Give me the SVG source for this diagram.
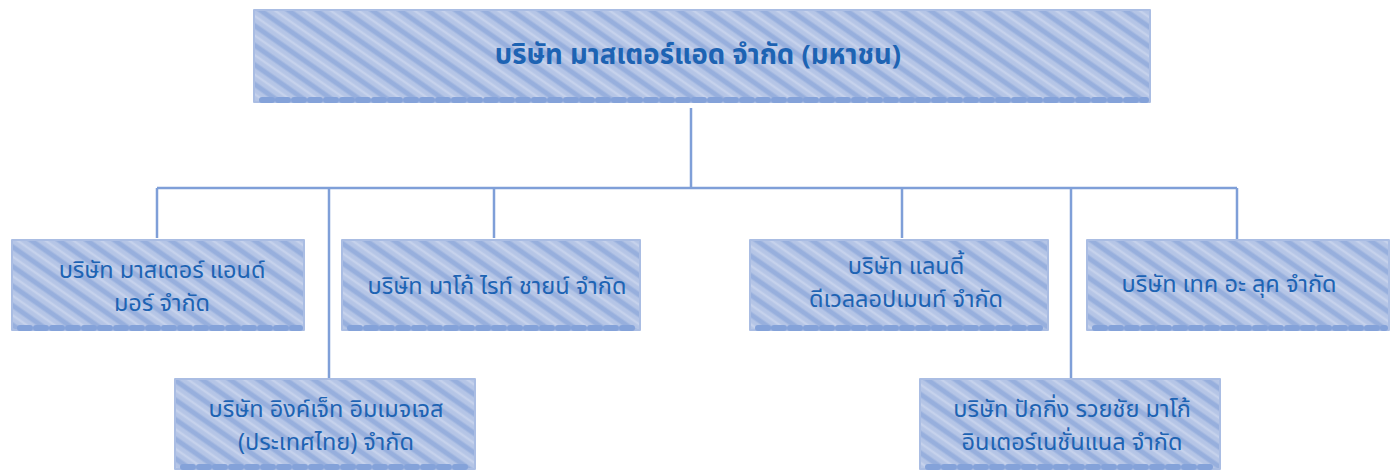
<svg xmlns="http://www.w3.org/2000/svg" width="1396" height="475" viewBox="0 0 1396 475">
<defs>
<pattern id="hatch" patternUnits="userSpaceOnUse" width="16" height="16" patternTransform="rotate(35)">
<rect width="16" height="16" fill="#b5c5e6"/>
<line x1="0" y1="3" x2="16" y2="3" stroke="#97afdd" stroke-width="5"/>
<line x1="0" y1="11" x2="16" y2="11" stroke="#c6d2ec" stroke-width="2.5"/>
</pattern>
<style>
.box{fill:url(#hatch);stroke:#aabde3;stroke-width:2;stroke-linejoin:round}
.edge{fill:none;stroke:#84a2d9;stroke-width:6;stroke-linecap:round;stroke-dasharray:10 6}
.t{font-family:"Noto Sans Thai","Noto Sans","DejaVu Sans",sans-serif;font-size:23.5px;fill:#1d63b3;text-anchor:middle}
.tb{font-weight:bold;font-size:27.5px}
.c{fill:none;stroke:#7f9fd8;stroke-width:2.5}
</style>
</defs>
<g id="connectors">
<path class="c" d="M691 108V188M157 188H1237M157 188V238M329 188V378M494 188V238M902 188V238M1071 188V378M1237 188V240"/>
</g>
<g id="n0">
<rect class="box" x="254" y="10" width="896" height="92"/>
<line class="edge" x1="262" y1="100" x2="1146" y2="100"/>
<text class="t tb" x="698" y="64">บริษัท มาสเตอร์แอด จำกัด (มหาชน)</text>
</g>
<g id="n1">
<rect class="box" x="12" y="240" width="292" height="90"/>
<line class="edge" x1="20" y1="328" x2="300" y2="328"/>
<text class="t" x="162" y="278">บริษัท มาสเตอร์ แอนด์</text>
<text class="t" x="162" y="311">มอร์ จำกัด</text>
</g>
<g id="n2">
<rect class="box" x="175" y="379" width="300" height="90"/>
<line class="edge" x1="183" y1="467" x2="471" y2="467"/>
<text class="t" x="326" y="417">บริษัท อิงค์เจ็ท อิมเมจเจส</text>
<text class="t" x="326" y="450">(ประเทศไทย) จำกัด</text>
</g>
<g id="n3">
<rect class="box" x="342" y="240" width="298" height="90"/>
<line class="edge" x1="350" y1="328" x2="636" y2="328"/>
<text class="t" x="497" y="294">บริษัท มาโก้ ไรท์ ชายน์ จำกัด</text>
</g>
<g id="n4">
<rect class="box" x="750" y="240" width="298" height="90"/>
<line class="edge" x1="758" y1="328" x2="1044" y2="328"/>
<text class="t" x="906" y="274">บริษัท แลนดี้</text>
<text class="t" x="906" y="307">ดีเวลลอปเมนท์ จำกัด</text>
</g>
<g id="n5">
<rect class="box" x="1087" y="240" width="302" height="90"/>
<line class="edge" x1="1095" y1="328" x2="1385" y2="328"/>
<text class="t" x="1229" y="292">บริษัท เทค อะ ลุค จำกัด</text>
</g>
<g id="n6">
<rect class="box" x="920" y="379" width="300" height="90"/>
<line class="edge" x1="928" y1="467" x2="1216" y2="467"/>
<text class="t" x="1072" y="417">บริษัท ปักกิ่ง รวยชัย มาโก้</text>
<text class="t" x="1072" y="450">อินเตอร์เนชั่นแนล จำกัด</text>
</g>
</svg>
